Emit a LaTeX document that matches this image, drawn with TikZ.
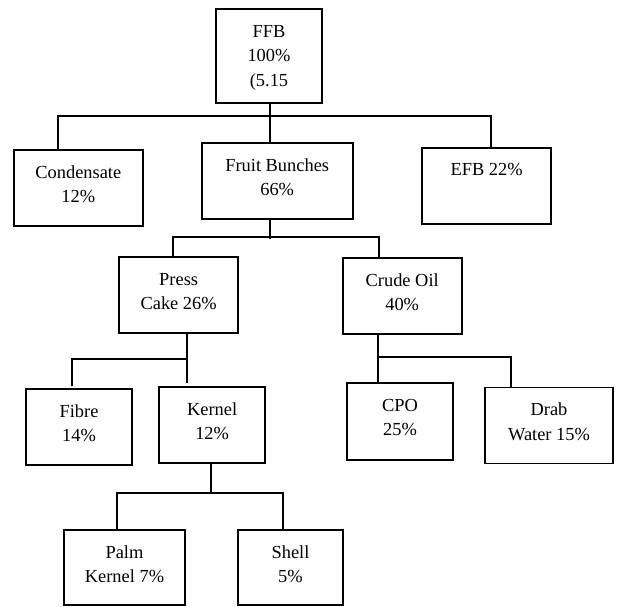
\documentclass[tikz,border=0pt]{standalone}
\usepackage{fontspec}
\setmainfont{Liberation Serif}
\usetikzlibrary{calc}
\newcommand\mkbox[5]{%
  \node[box, minimum width={#4pt-#2pt}, minimum height={#5pt-#3pt}] (#1) at ({(#2+#4)/2},{(#3+#5)/2}) {};}
\newcommand\mktext[2]{%
  \node[lbl] (#1t) at ($(#1.north)+(0,28)$) {\begin{tabular}[t]{@{}c@{}}#2\end{tabular}};}
\begin{document}
\begin{tikzpicture}[x=1pt,y=-1pt,
  box/.style={draw, line width=1.8pt, inner sep=0pt, outer sep=0pt, rectangle},
  wire/.style={line width=1.8pt},
  lbl/.style={anchor=base, inner sep=0pt, font=\fontsize{18.4}{24.5}\selectfont}]
\fill[white] (0,0) rectangle (617,606);
\useasboundingbox (0,0) rectangle (617,606);

% boxes: name, left, top, right, bottom
\mkbox{ffb}{216}{9}{322}{102.7}
\mkbox{cond}{14}{150}{142.7}{226}
\mkbox{fruit}{201.7}{143.3}{352.7}{219.3}
\mkbox{efb}{422}{147.7}{551.3}{224}
\mkbox{press}{119}{257}{238.3}{333.3}
\mkbox{crude}{342.7}{258.3}{461.7}{334.3}
\mkbox{fibre}{26.3}{389}{131.7}{465}
\mkbox{kernel}{159.3}{387.3}{265}{463.3}
\mkbox{cpo}{347.3}{383.3}{452.7}{460}
\mkbox{drab}{485.3}{387.5}{612.7}{463.5}
\mkbox{palm}{64}{530}{185}{605}
\mkbox{shell}{237.7}{530}{343.3}{605}

% texts
\mktext{ffb}{FFB\\100\%\\(5.15}
\mktext{cond}{Condensate\\12\%}
\mktext{fruit}{Fruit Bunches\\66\%}
\mktext{efb}{EFB 22\%}
\mktext{press}{Press\\Cake 26\%}
\mktext{crude}{Crude Oil\\40\%}
\mktext{fibre}{Fibre\\14\%}
\mktext{kernel}{Kernel\\12\%}
\mktext{cpo}{CPO\\25\%}
\mktext{drab}{Drab\\Water 15\%}
\mktext{palm}{Palm\\Kernel 7\%}
\mktext{shell}{Shell\\5\%}

% level 1
\coordinate (s1) at (270,116);
\coordinate (b1l) at (58.3,116);
\coordinate (b1r) at (490.7,116);
\draw[wire] (s1 |- ffb.south) -- (s1 |- fruit.north);
\draw[wire] (b1l |- cond.north) -- (b1l) -- (b1r) -- (b1r |- efb.north);

% level 2
\coordinate (s2) at (270.3,239);
\coordinate (b2l) at (173.3,236.7);
\coordinate (b2r) at (379.3,236.7);
\draw[wire] (s2 |- fruit.south) -- (s2);
\draw[wire] (b2l |- press.north) -- (b2l) -- (b2r) -- (b2r |- crude.north);

% level 3 left
\coordinate (s3) at (187,358.7);
\coordinate (b3l) at (72,358.7);
\draw[wire] (s3 |- press.south) -- ($(s3 |- kernel.north)+(0,-4)$);
\draw[wire] ($(b3l |- fibre.north)+(0,-3)$) -- (b3l) -- (s3);

% level 3 right
\coordinate (s4) at (377.7,357.3);
\coordinate (b4r) at (510.7,357.3);
\draw[wire] (s4 |- crude.south) -- (s4 |- cpo.north);
\draw[wire] (s4) -- (b4r) -- (b4r |- drab.north);

% level 4
\coordinate (s5) at (211,492.7);
\coordinate (b5l) at (117.3,492.7);
\coordinate (b5r) at (283.3,492.7);
\draw[wire] (s5 |- kernel.south) -- (s5);
\draw[wire] (b5l |- palm.north) -- (b5l) -- (b5r) -- (b5r |- shell.north);
\end{tikzpicture}
\end{document}
